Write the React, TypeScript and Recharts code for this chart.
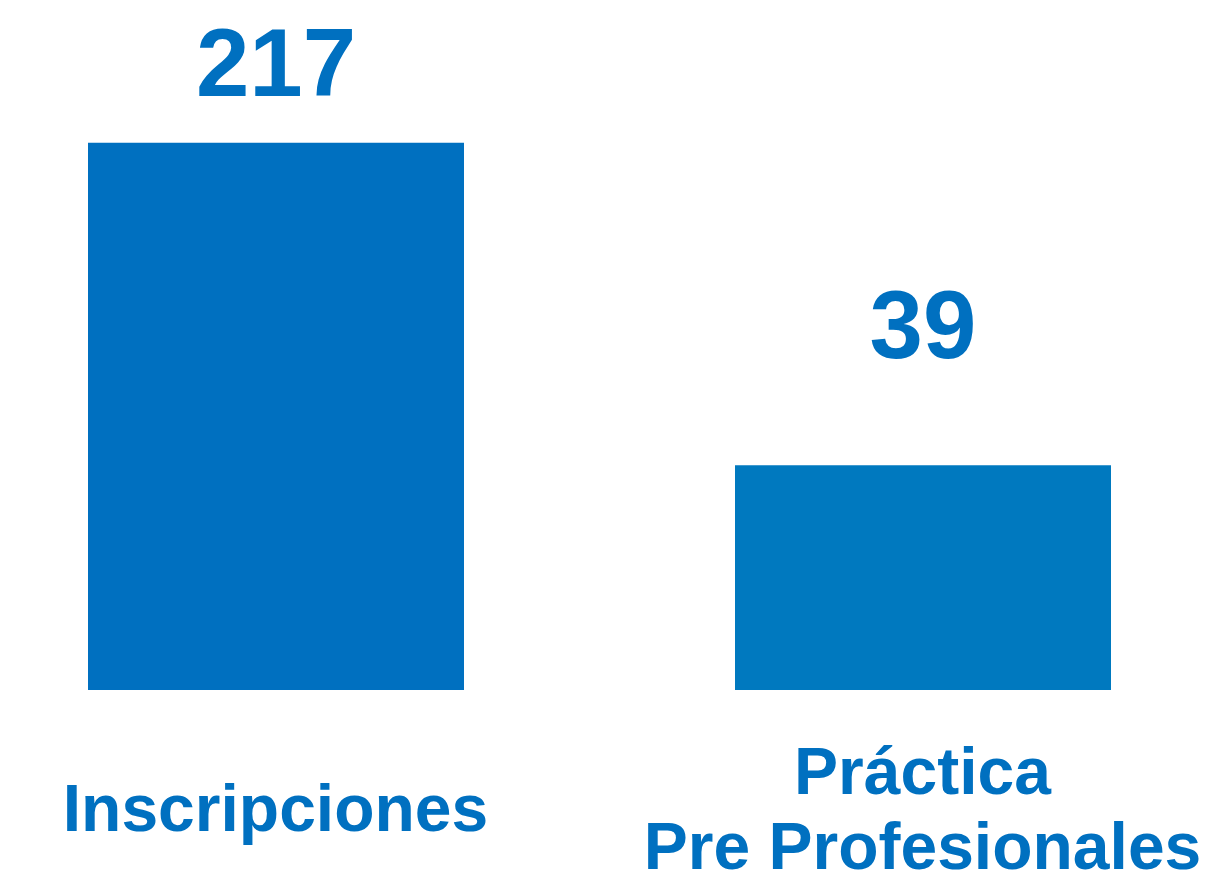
import { BarChart, Bar, XAxis, YAxis, Cell, LabelList } from 'recharts';

const categories = ['Inscripciones', 'Práctica\nPre Profesionales'];
const values = [217, 39];

const barColors = ['#0070C0', '#0079BF'];
const TEXT_COLOR = '#0070C0';
const FONT = '"Liberation Sans", Arial, sans-serif';
const Y_DOMAIN: [number, number] = [-85, 240];
const labelGap = [47, 107]; // distance from bar top to the number's baseline

const data = categories.map((name, i) => ({ name, value: values[i] }));

function CategoryTick(props: any) {
    const { x, y, payload } = props;
    const lines = String(payload.value).split('\n');
    const lineHeight = 75;
    const mid = y + 133;
    return (
        <g>
            {lines.map((line, i) => (
                <text
                    key={i}
                    x={x}
                    y={mid + (i - (lines.length - 1) / 2) * lineHeight}
                    textAnchor="middle"
                    fill={TEXT_COLOR}
                    fontFamily={FONT}
                    fontWeight="bold"
                    fontSize={66}
                >
                    {line}
                </text>
            ))}
        </g>
    );
}

function ValueLabel(props: any) {
    const vb = props.viewBox || props;
    const index = props.index ?? 0;
    const cx = vb.x + vb.width / 2;
    const top = Math.min(vb.y, vb.y + vb.height);
    return (
        <text
            x={cx}
            y={top - labelGap[index]}
            textAnchor="middle"
            fill={TEXT_COLOR}
            fontFamily={FONT}
            fontWeight="bold"
            fontSize={96}
        >
            {values[index]}
        </text>
    );
}

export default function App() {
    return (
        <div
            style={{
                position: 'fixed',
                left: 0,
                top: 0,
                width: 1228,
                height: 873,
                overflow: 'hidden',
                background: '#ffffff',
            }}
        >
            <div style={{ position: 'absolute', left: -48, top: 0 }}>
                <BarChart
                    width={1294}
                    height={873}
                    data={data}
                    margin={{ top: 101, right: 0, bottom: 0, left: 0 }}
                >
                    <XAxis
                        dataKey="name"
                        interval={0}
                        axisLine={false}
                        tickLine={false}
                        height={183}
                        tick={<CategoryTick />}
                    />
                    <YAxis hide domain={Y_DOMAIN} allowDataOverflow />
                    <Bar
                        dataKey={(d: any) => [Y_DOMAIN[0], d.value]}
                        barSize={376}
                        isAnimationActive={false}
                    >
                        {data.map((entry, index) => (
                            <Cell key={`cell-${index}`} fill={barColors[index]} stroke="none" />
                        ))}
                        <LabelList content={<ValueLabel />} />
                    </Bar>
                </BarChart>
            </div>
        </div>
    );
}
